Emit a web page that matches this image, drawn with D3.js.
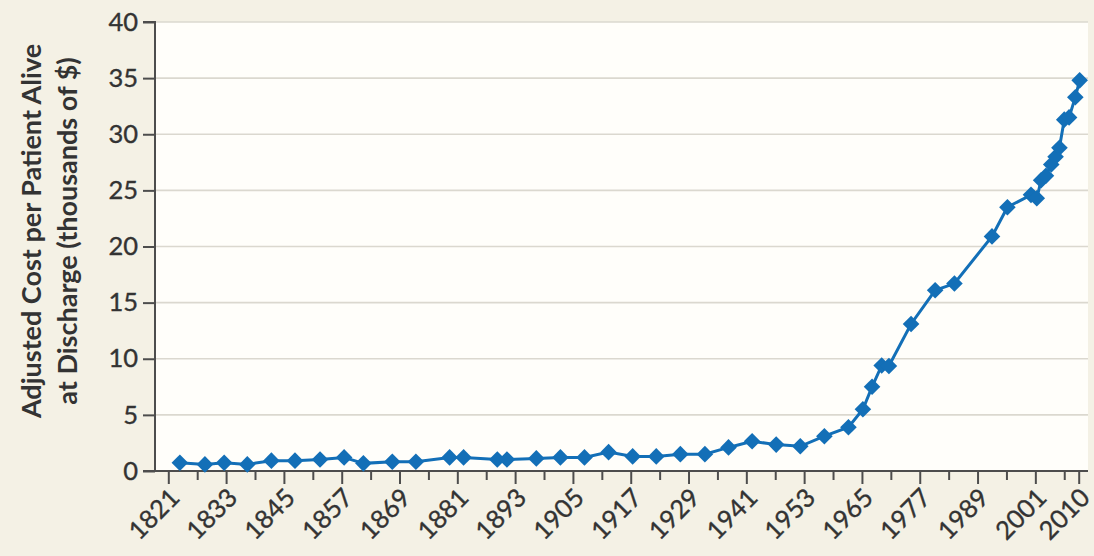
<!DOCTYPE html>
<html>
<head>
<meta charset="utf-8">
<script src="https://cdn.jsdelivr.net/npm/d3@7"></script>
<style>
  html, body { margin: 0; padding: 0; background: #f4f1e5; }
  svg { display: block; }
</style>
</head>
<body>
<div id="chart"></div>
<script>
// ---- Data ----
const years = [1823.4, 1828.6, 1832.6, 1837.4, 1842.4, 1847.3, 1852.5, 1857.5, 1861.5, 1867.5,
               1872.4, 1879.4, 1882.3, 1889.3, 1891.3, 1897.4, 1902.4, 1907.4, 1912.4, 1917.4,
               1922.3, 1927.3, 1932.4, 1937.3, 1942.2, 1947.2, 1952.2, 1957.2, 1962.2, 1965.2,
               1967.1, 1969.1, 1970.6, 1975.2, 1980.2, 1984.2, 1992.0, 1995.2, 2000.1, 2001.3,
               2002.2, 2003.2, 2004.3, 2005.2, 2006.0, 2007.0, 2008.0, 2009.3, 2010.2];
const costs = [0.74, 0.59, 0.74, 0.59, 0.92, 0.92, 1.03, 1.21, 0.68, 0.83,
               0.83, 1.21, 1.21, 1.03, 1.03, 1.12, 1.21, 1.21, 1.68, 1.3,
               1.3, 1.5, 1.5, 2.1, 2.65, 2.35, 2.2, 3.1, 3.9, 5.5,
               7.5, 9.4, 9.35, 13.1, 16.1, 16.7, 20.9, 23.5, 24.6, 24.3,
               25.9, 26.3, 27.3, 28.0, 28.8, 31.3, 31.5, 33.3, 34.8];
const xTickValues = [1821, 1827, 1833, 1839, 1845, 1851, 1857, 1863, 1869, 1875, 1881, 1887,
                     1893, 1899, 1905, 1911, 1917, 1923, 1929, 1935, 1941, 1947, 1953, 1959,
                     1965, 1971, 1977, 1983, 1989, 1995, 2001, 2007, 2010];
const xTickLabels = ["1821", "1833", "1845", "1857", "1869", "1881", "1893", "1905", "1917",
                     "1929", "1941", "1953", "1965", "1977", "1989", "2001", "2010"];
const yTickValues = [0, 5, 10, 15, 20, 25, 30, 35, 40];
const yTitleLines = ["Adjusted Cost per Patient Alive", "at Discharge (thousands of $)"];

// ---- Layout ----
const W = 1094, H = 556;
const plot = { left: 155, right: 1088, top: 22, bottom: 471 };
const blue = "#136fb7";
const textColor = "#333333";
const axisColor = "#4d4d4d";
const font = "Lato, 'Open Sans', sans-serif";

const svg = d3.select("#chart").append("svg").attr("width", W).attr("height", H);
svg.append("rect").attr("width", W).attr("height", H).attr("fill", "#f4f1e5");

const x = d3.scaleLinear().domain([1821, 2010]).range([168.3, 1078.7]);
const y = d3.scaleLinear().domain([0, 40]).range([plot.bottom, plot.top]);

// plot background
svg.append("rect")
  .attr("x", plot.left).attr("y", plot.top)
  .attr("width", plot.right - plot.left).attr("height", plot.bottom - plot.top)
  .attr("fill", "#fffefa");

// gridlines
svg.append("g").selectAll("line")
  .data(yTickValues.filter(v => v > 0))
  .join("line")
  .attr("x1", plot.left).attr("x2", plot.right)
  .attr("y1", d => y(d)).attr("y2", d => y(d))
  .attr("stroke", "#dbd8cf").attr("stroke-width", 1.6);

// y axis
const yAxis = d3.axisLeft(y).tickValues(yTickValues).tickSize(12).tickPadding(5);
const gy = svg.append("g").attr("transform", `translate(${plot.left},0)`).call(yAxis);
gy.select(".domain").attr("stroke", axisColor).attr("stroke-width", 2).attr("d", `M-12,${y(40)}H0V${y(0)}`);
gy.selectAll(".tick line").attr("stroke", axisColor).attr("stroke-width", 2);
gy.selectAll(".tick text").attr("fill", textColor)
  .attr("stroke", textColor).attr("stroke-width", 0.35)
  .style("font-family", font).style("font-size", "25.5px");

// x axis
const labeled = new Set(xTickLabels.map(Number));
const xAxis = d3.axisBottom(x).tickValues(xTickValues).tickSize(0).tickFormat(d => labeled.has(d) ? String(d) : "");
const gx = svg.append("g").attr("transform", `translate(0,${plot.bottom})`).call(xAxis);
gx.select(".domain").attr("stroke", axisColor).attr("stroke-width", 2)
  .attr("d", `M${plot.left - 12},0H${plot.right}`);
gx.selectAll(".tick line")
  .attr("stroke", axisColor).attr("stroke-width", 2)
  .attr("y2", d => labeled.has(d) ? 13 : 9);
gx.selectAll(".tick text")
  .attr("fill", textColor)
  .attr("stroke", textColor).attr("stroke-width", 0.35)
  .style("font-family", font).style("font-size", "25.5px")
  .attr("text-anchor", "end")
  .attr("dy", "0.35em")
  .attr("transform", "translate(6,22) rotate(-45)")
  .attr("y", 0).attr("x", 0);

// line
const pts = years.map((yr, i) => ({ yr, v: costs[i] }));
svg.append("path")
  .datum(pts)
  .attr("fill", "none").attr("stroke", blue).attr("stroke-width", 3)
  .attr("d", d3.line().x(d => x(d.yr)).y(d => y(d.v)));

// diamond markers
const diamond = d3.symbol().type(d3.symbolSquare).size(138);
svg.append("g").selectAll("path")
  .data(pts)
  .join("path")
  .attr("d", diamond)
  .attr("transform", d => `translate(${x(d.yr)},${y(d.v)}) rotate(45)`)
  .attr("fill", blue);

// y title
const yt = svg.append("text")
  .attr("transform", `translate(0,231) rotate(-90)`)
  .attr("text-anchor", "middle")
  .attr("fill", textColor)
  .style("font-family", font).style("font-size", "27px").style("font-weight", "bold");
yt.selectAll("tspan").data(yTitleLines).join("tspan")
  .attr("x", 0).attr("y", (d, i) => 41 + i * 36)
  .text(d => d);
</script>
</body>
</html>
